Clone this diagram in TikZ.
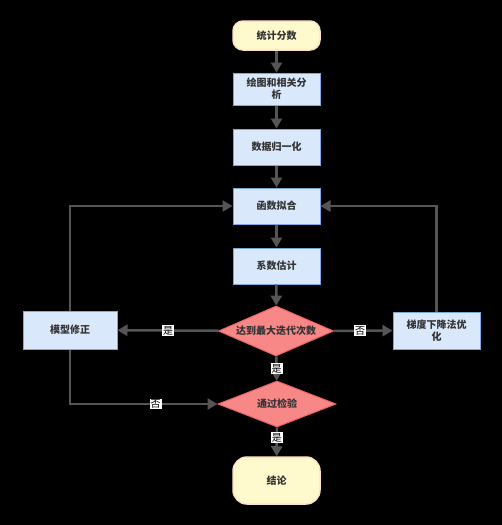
\documentclass[tikz,border=0pt]{standalone}
\usepackage{fontspec}
\setmainfont{Noto Sans CJK SC}
\usepackage{tikz}
\usetikzlibrary{positioning}
\usetikzlibrary{shapes.geometric, arrows, arrows.meta}
\definecolor{boxfill}{RGB}{218,232,252}
\definecolor{boxline}{RGB}{126,166,224}
\definecolor{endfill}{RGB}{255,250,205}
\definecolor{endline}{RGB}{255,226,196}
\definecolor{decfill}{RGB}{248,136,136}
\definecolor{decline}{RGB}{240,100,100}
\definecolor{linegray}{RGB}{85,85,85}
\definecolor{textgray}{RGB}{51,51,51}
\tikzstyle{startstop} = [rectangle, rounded corners=10pt, minimum width=87pt, text centered, draw=endline, line width=1.5pt, fill=endfill, font=\bfseries\fontsize{10}{12}\selectfont, text=textgray]
\tikzstyle{process} = [rectangle, minimum width=87pt, minimum height=36pt, align=center, draw=boxline, line width=1pt, fill=boxfill, font=\bfseries\fontsize{10}{12}\selectfont, text=textgray]
\tikzstyle{decision} = [diamond, aspect=2.3, inner sep=0pt, text centered, draw=decline, line width=1pt, fill=decfill, font=\bfseries\fontsize{10}{12}\selectfont, text=textgray]
\tikzstyle{arrow} = [line width=2.5pt, draw=linegray, -{Triangle[length=10pt,width=11pt]}]
\tikzstyle{answer} = [fill=white, inner sep=1pt, font=\fontsize{10}{12}\selectfont, text=black]

\begin{document}
\begin{tikzpicture}[x=1pt,y=-1pt]
\fill[black] (0,0) rectangle (502,525);
\useasboundingbox (0,0) rectangle (502,525);
\node (start) [startstop, minimum height=29pt] at (276.5,35.5) {统计分数};
\node (plot) [process, minimum height=32pt] at (276.5,89) {绘图和相关分\\析};
\node (norm) [process] at (276.5,147) {数据归一化};
\node (fit) [process] at (276.5,206) {函数拟合};
\node (coef) [process] at (276.5,266) {系数估计};
\node (iter) [decision, minimum width=115pt, minimum height=50pt] at (276,331) {达到最大迭代次数};
\node (fix) [process, minimum width=94pt, minimum height=38pt] at (70,330) {模型修正};
\node (grad) [process, minimum height=37pt] at (436.5,330.5) {梯度下降法优\\化};
\node (test) [decision, minimum width=118pt, minimum height=46pt] at (277,404) {通过检验};
\node (stop) [startstop, minimum height=47pt, rounded corners=14pt] at (276.5,480.5) {结论};

\draw [arrow] (start) -- (plot);
\draw [arrow] (plot) -- (norm);
\draw [arrow] (norm) -- (fit);
\draw [arrow] (fit) -- (coef);
\draw [arrow] (coef) -- (iter);
\draw [arrow] (iter) -- node[answer, pos=0.5] {是} (fix);
\draw [arrow] (iter) -- node[answer, pos=0.45] {否} (grad);
\draw [arrow] (grad.north) |- (fit.east);
\draw [arrow] (fix.north) |- (fit.west);
\draw [arrow] (iter) -- node[answer] {是} (test);
\draw [arrow] (fix.south) |- node[answer, pos=0.79] {否} (test.west);
\draw [arrow] (test) -- node[answer, pos=0.35] {是} (stop);
\end{tikzpicture}
\end{document}
